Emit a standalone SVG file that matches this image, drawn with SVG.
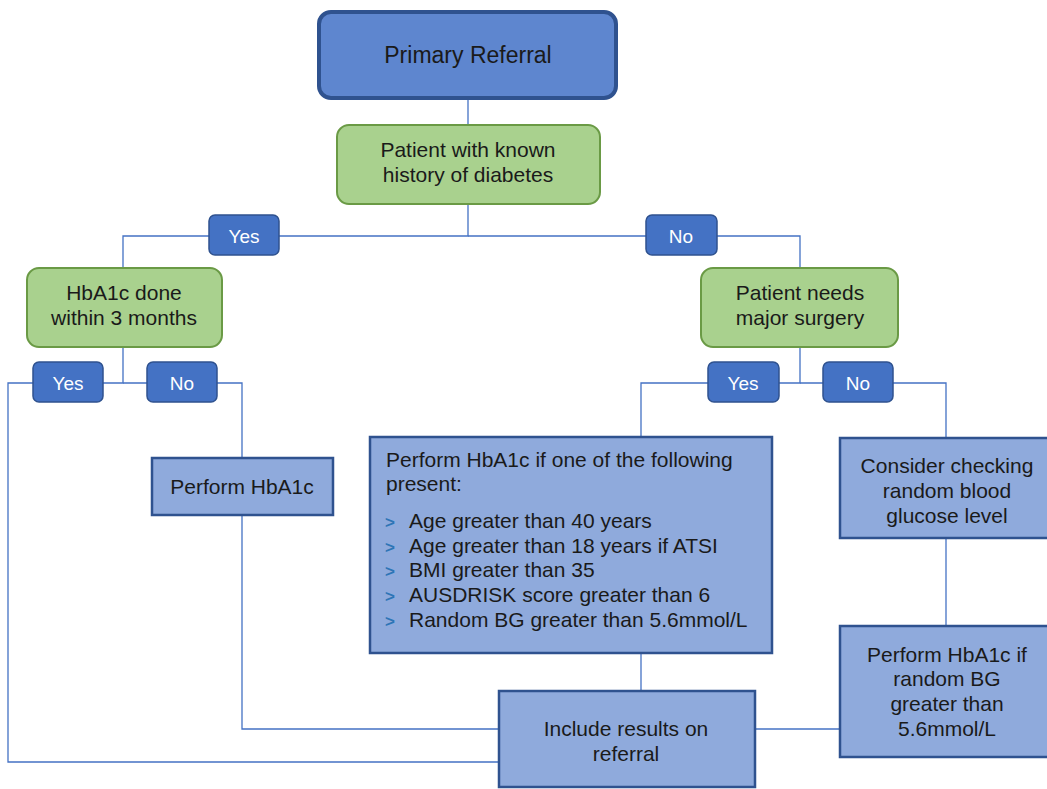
<svg xmlns="http://www.w3.org/2000/svg" width="1047" height="789" viewBox="0 0 1047 789">
<style>
text{font-family:"Liberation Sans",Arial,sans-serif;font-size:21px;fill:#1a1a1a;text-anchor:middle}
.conn{fill:none;stroke:#4472C4;stroke-width:1.3}
.green{fill:#A9D18E;stroke:#6A9A45;stroke-width:2}
.blue{fill:#8FAADC;stroke:#2F528F;stroke-width:2.5}
.lbl{fill:#4472C4;stroke:#2F528F;stroke-width:1.5}
.lt{fill:#fff;font-size:19px}
.title{font-size:23px}
.bul{fill:#2E75B6;font-size:17px;font-weight:bold;text-anchor:start}
.l{text-anchor:start}
</style>
<rect width="1047" height="789" fill="#fff"/>
<g id="connectors">
<path class="conn" d="M468 98V125"/>
<path class="conn" d="M468 204V236H123V268"/>
<path class="conn" d="M468 236H800V268"/>
<path class="conn" d="M123 347V383H8V762H499"/>
<path class="conn" d="M123 383H242V458"/>
<path class="conn" d="M242 515V729H499"/>
<path class="conn" d="M800 347V383H641V437"/>
<path class="conn" d="M800 383H946V438"/>
<path class="conn" d="M641 653V691"/>
<path class="conn" d="M946 538V626"/>
<path class="conn" d="M755 729H839"/>
</g>
<g id="primary">
<rect x="319" y="12" width="297" height="86" rx="12" fill="#5E86CF" stroke="#2F528F" stroke-width="4"/>
<text class="title" x="468" y="63">Primary Referral</text>
</g>
<g id="known-diabetes">
<rect class="green" x="337" y="125" width="263" height="79" rx="12"/>
<text x="468" y="157">Patient with known</text>
<text x="468" y="182">history of diabetes</text>
</g>
<g id="yes1"><rect class="lbl" x="209" y="215" width="70" height="40" rx="6"/><text class="lt" x="244" y="243">Yes</text></g>
<g id="no1"><rect class="lbl" x="646" y="215" width="71" height="40" rx="6"/><text class="lt" x="681" y="243">No</text></g>
<g id="hba1c-done">
<rect class="green" x="27" y="268" width="195" height="79" rx="12"/>
<text x="124" y="300">HbA1c done</text>
<text x="124" y="325">within 3 months</text>
</g>
<g id="major-surgery">
<rect class="green" x="701" y="268" width="197" height="79" rx="12"/>
<text x="800" y="300">Patient needs</text>
<text x="800" y="325">major surgery</text>
</g>
<g id="yes2"><rect class="lbl" x="33" y="362" width="70" height="40" rx="6"/><text class="lt" x="68" y="390">Yes</text></g>
<g id="no2"><rect class="lbl" x="147" y="362" width="70" height="40" rx="6"/><text class="lt" x="182" y="390">No</text></g>
<g id="yes3"><rect class="lbl" x="708" y="362" width="71" height="40" rx="6"/><text class="lt" x="743" y="390">Yes</text></g>
<g id="no3"><rect class="lbl" x="823" y="362" width="70" height="40" rx="6"/><text class="lt" x="858" y="390">No</text></g>
<g id="perform-hba1c">
<rect class="blue" x="152" y="458" width="181" height="57"/>
<text x="242" y="494">Perform HbA1c</text>
</g>
<g id="criteria">
<rect class="blue" x="370" y="437" width="402" height="216"/>
<text class="l" x="386" y="467">Perform HbA1c if one of the following</text>
<text class="l" x="386" y="491">present:</text>
<text class="bul" x="385" y="528">&gt;</text><text class="l" x="409" y="528">Age greater than 40 years</text>
<text class="bul" x="385" y="553">&gt;</text><text class="l" x="409" y="553">Age greater than 18 years if ATSI</text>
<text class="bul" x="385" y="577">&gt;</text><text class="l" x="409" y="577">BMI greater than 35</text>
<text class="bul" x="385" y="602">&gt;</text><text class="l" x="409" y="602">AUSDRISK score greater than 6</text>
<text class="bul" x="385" y="627">&gt;</text><text class="l" x="409" y="627">Random BG greater than 5.6mmol/L</text>
</g>
<g id="consider">
<rect class="blue" x="840" y="438" width="210" height="100"/>
<text x="947" y="473">Consider checking</text>
<text x="947" y="498">random blood</text>
<text x="947" y="523">glucose level</text>
</g>
<g id="perform-if-bg">
<rect class="blue" x="840" y="626" width="210" height="131"/>
<text x="947" y="662">Perform HbA1c if</text>
<text x="947" y="686">random BG</text>
<text x="947" y="711">greater than</text>
<text x="947" y="736">5.6mmol/L</text>
</g>
<g id="include">
<rect class="blue" x="499" y="691" width="256" height="96"/>
<text x="626" y="736">Include results on</text>
<text x="626" y="761">referral</text>
</g>
</svg>
